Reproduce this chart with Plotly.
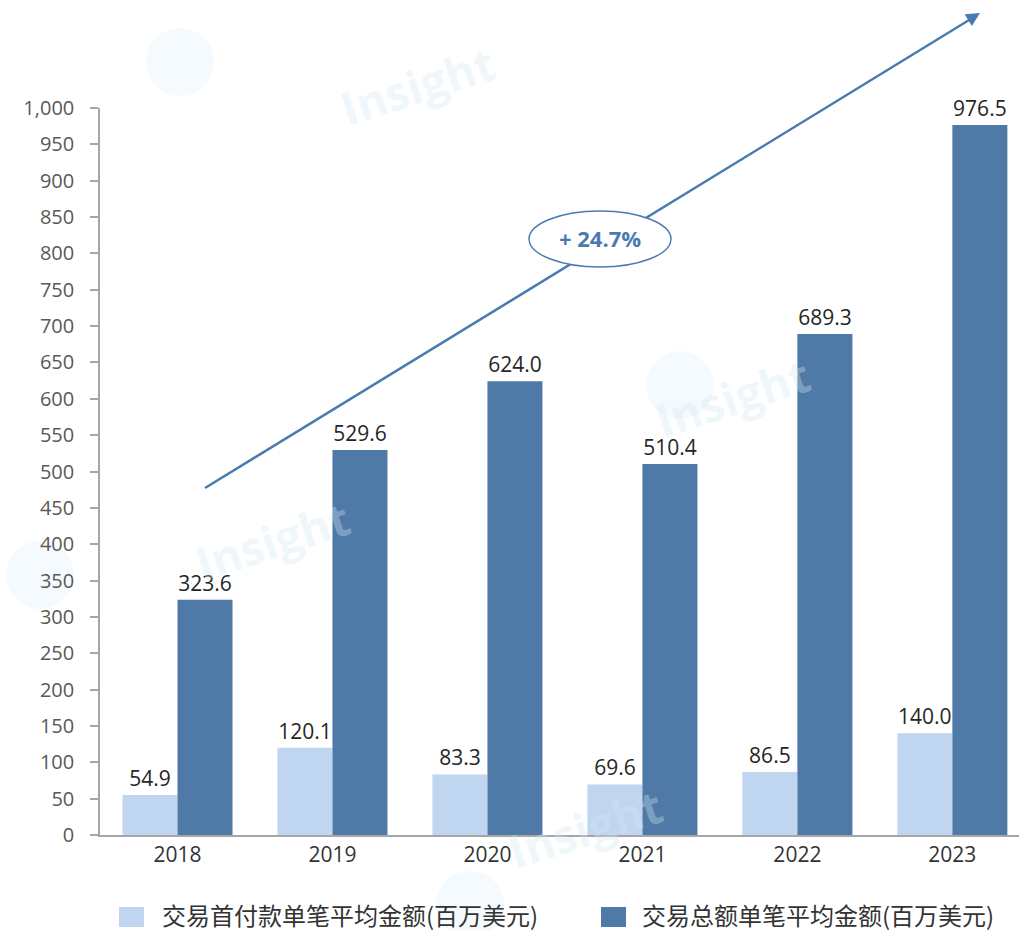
import plotly.graph_objects as go

years = ["2018", "2019", "2020", "2021", "2022", "2023"]
upfront_avg = [54.9, 120.1, 83.3, 69.6, 86.5, 140.0]
total_avg = [323.6, 529.6, 624.0, 510.4, 689.3, 976.5]
series_names = ["交易首付款单笔平均金额(百万美元)", "交易总额单笔平均金额(百万美元)"]
series_colors = ["#c0d5ef", "#4f79a6"]
growth_label = "+ 24.7%"

W, H = 1019, 931
L, R, T, B = 100, 0, 108, 96
plot_w, plot_h = W - L - R, H - T - B


def px_x(p):
    return (p - L) / plot_w


def px_y(p):
    return (H - B - p) / plot_h


num_font = "Open Sans, DejaVu Sans, sans-serif"
cjk_font = "Noto Sans CJK SC, Noto Sans, sans-serif"

fig = go.Figure()
for vals, name, col in zip([upfront_avg, total_avg], series_names, series_colors):
    fig.add_trace(go.Bar(
        x=years, y=vals, name=name,
        marker=dict(color=col, line=dict(width=0)),
        texttemplate="%{y:.1f}", textposition="outside",
        textfont=dict(size=21, color="#262626", family=num_font),
        cliponaxis=False,
    ))

# faint watermarks (logo disc + word)
wm = [((180, 62), (330, 28)), ((680, 385), (820, 340)), ((40, 575), (185, 540)), ((470, 905), (585, 885))]
for (ix, iy), (wx, wy) in wm:
    fig.add_shape(type="circle", xref="paper", yref="paper",
                  x0=px_x(ix - 34), x1=px_x(ix + 34), y0=px_y(iy - 34), y1=px_y(iy + 34),
                  line=dict(width=0), fillcolor="rgba(215,236,248,0.28)", layer="below")
    fig.add_annotation(
        x=px_x(wx), y=px_y(wy), xref="paper", yref="paper",
        text="<b>Insight</b>", showarrow=False, textangle=-18,
        font=dict(size=46, color="rgba(210,232,245,0.35)", family=num_font),
    )

# growth trend arrow
tail = (205, 488)
head = (980, 13)
fig.add_shape(type="line", xref="paper", yref="paper",
              x0=px_x(tail[0]), y0=px_y(tail[1]),
              x1=px_x(head[0] - 6), y1=px_y(head[1] + 4),
              line=dict(color="#4a7bb0", width=2.5), layer="above")
fig.add_annotation(x=px_x(head[0]), y=px_y(head[1]), xref="paper", yref="paper",
                   ax=-13, ay=8, showarrow=True, arrowhead=2, arrowsize=1.1,
                   arrowwidth=2.5, arrowcolor="#4a7bb0", text="")

# ellipse with growth rate
fig.add_shape(type="circle", xref="paper", yref="paper",
              x0=px_x(529), x1=px_x(671), y0=px_y(211), y1=px_y(267),
              line=dict(color="#4a7bb0", width=1.5), fillcolor="white", layer="above")
fig.add_annotation(x=px_x(600), y=px_y(238), xref="paper", yref="paper",
                   yanchor="middle", text="<b>" + growth_label + "</b>", showarrow=False,
                   font=dict(size=22, color="#4a7bb0", family=num_font))

# legend drawn below the axis
legend_x = [(119, 160), (601, 640)]
for (sx, tx), name, col in zip(legend_x, series_names, series_colors):
    fig.add_shape(type="rect", xref="paper", yref="paper",
                  x0=px_x(sx), x1=px_x(sx + 25), y0=px_y(927), y1=px_y(907),
                  line=dict(width=0), fillcolor=col)
    fig.add_annotation(x=px_x(tx), y=px_y(914), xref="paper", yref="paper",
                       xanchor="left", yanchor="middle", text=name, showarrow=False,
                       font=dict(size=24, color="#333333", family=cjk_font))

fig.update_layout(
    width=W, height=H,
    margin=dict(l=L, r=R, t=T, b=B, autoexpand=False),
    paper_bgcolor="white", plot_bgcolor="white",
    barmode="group", bargap=0.29, bargroupgap=0,
    showlegend=False,
    xaxis=dict(
        range=[-0.5, 5.43], showgrid=False, showline=True, linecolor="#a6a6a6",
        linewidth=1.5, ticks="", tickfont=dict(size=21, color="#333333", family=num_font),
        fixedrange=True,
    ),
    yaxis=dict(
        range=[0, 1000], dtick=50, tickformat=",", showgrid=False,
        showline=True, linecolor="#a6a6a6", linewidth=1.5,
        ticks="outside", ticklen=8, tickcolor="#a6a6a6", tickwidth=1.5,
        ticklabelstandoff=12,
        tickfont=dict(size=20, color="#595959", family=num_font),
        zeroline=False,
    ),
)

fig.write_html("out.html")
